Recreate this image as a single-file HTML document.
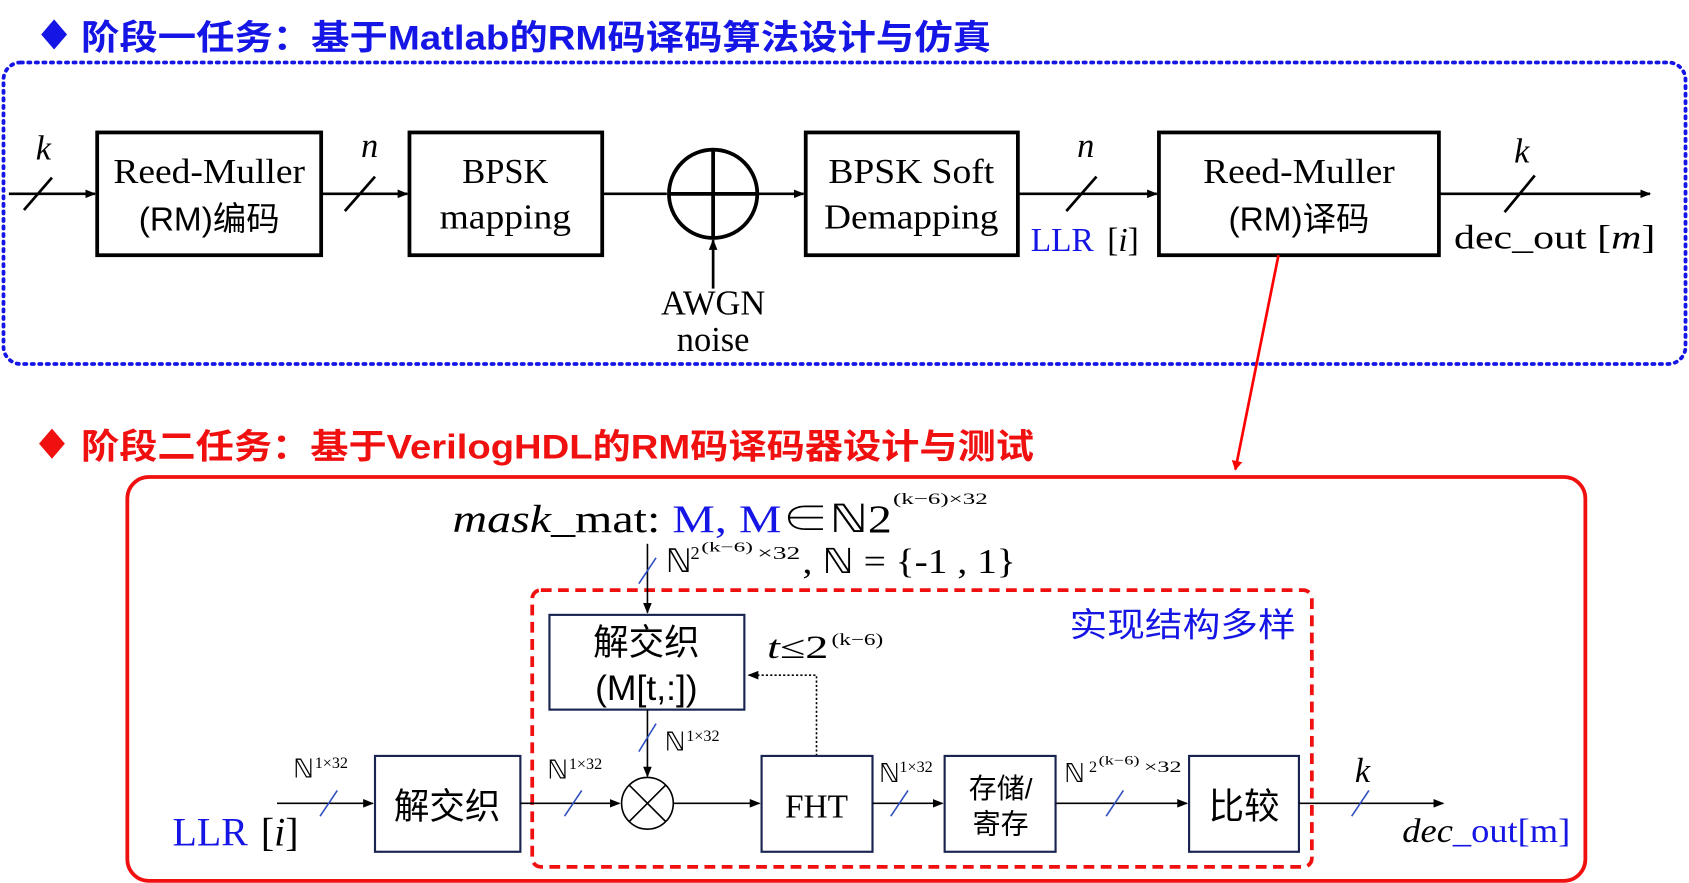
<!DOCTYPE html>
<html><head><meta charset="utf-8"><style>
html,body{margin:0;padding:0;background:#fff;width:1689px;height:883px;overflow:hidden}
text{font-family:"Liberation Serif","Noto Serif CJK SC",serif}
.cjk{font-family:"Liberation Sans","Noto Sans CJK SC",sans-serif}
.it{font-style:italic}
</style></head><body>
<svg width="1689" height="883" viewBox="0 0 1568 820" xmlns="http://www.w3.org/2000/svg">
<defs>
<marker id="a" markerWidth="10" markerHeight="8" refX="9" refY="4" orient="auto" markerUnits="userSpaceOnUse"><path d="M0,0 L10,4 L0,8 z" fill="#000"/></marker>
<marker id="r" markerWidth="10" markerHeight="10" refX="8" refY="5" orient="auto" markerUnits="userSpaceOnUse"><path d="M0,0 L9,5 L0,10 z" fill="#f00"/></marker>
</defs>
<!-- Title 1 -->
<path d="M50,18 L62,32 L50,46 L38,32 z" fill="#1515e6"/>
<text x="75" y="46" class="cjk" font-size="32" font-weight="bold" fill="#1515e6" textLength="845" lengthAdjust="spacingAndGlyphs">阶段一任务：基于Matlab的RM码译码算法设计与仿真</text>
<rect x="3" y="58" width="1562" height="280" rx="16" fill="none" stroke="#1515e6" stroke-width="3.5" stroke-dasharray="2,5" stroke-linecap="round"/>
<!-- stage 1 -->
<g fill="none" stroke="#000" stroke-width="3.5">
<rect x="90" y="123" width="208" height="114"/>
<rect x="380" y="123" width="179" height="114"/>
<rect x="748" y="123" width="197" height="114"/>
<rect x="1076" y="123" width="260" height="114"/>
<circle cx="662" cy="180" r="41"/>
<line x1="662" y1="139" x2="662" y2="221"/><line x1="621" y1="180" x2="703" y2="180"/>
</g>
<g stroke="#000" stroke-width="2.5" fill="none">
<line x1="8" y1="180" x2="88" y2="180" marker-end="url(#a)"/>
<line x1="298" y1="180" x2="378" y2="180" marker-end="url(#a)"/>
<line x1="559" y1="180" x2="619" y2="180"/>
<line x1="703" y1="180" x2="746" y2="180" marker-end="url(#a)"/>
<line x1="945" y1="180" x2="1074" y2="180" marker-end="url(#a)"/>
<line x1="1336" y1="180" x2="1532" y2="180" marker-end="url(#a)"/>
<line x1="662" y1="268" x2="662" y2="223" marker-end="url(#a)"/>
<line x1="22" y1="195" x2="48" y2="165"/>
<line x1="320" y1="196" x2="348" y2="164"/>
<line x1="990" y1="196" x2="1018" y2="164"/>
<line x1="1397" y1="197" x2="1425" y2="163"/>
</g>
<g font-size="32" text-anchor="middle">
<text x="194" y="170" textLength="178" lengthAdjust="spacingAndGlyphs">Reed-Muller</text>
<text x="194" y="214" class="cjk" font-size="31">(RM)编码</text>
<text x="469" y="170">BPSK</text><text x="469" y="212" textLength="122" lengthAdjust="spacingAndGlyphs">mapping</text>
<text x="846" y="170" textLength="154" lengthAdjust="spacingAndGlyphs">BPSK Soft</text><text x="846" y="212" textLength="162" lengthAdjust="spacingAndGlyphs">Demapping</text>
<text x="1206" y="170" textLength="178" lengthAdjust="spacingAndGlyphs">Reed-Muller</text>
<text x="1206" y="214" class="cjk" font-size="31">(RM)译码</text>
<text x="662" y="292">AWGN</text><text x="662" y="326">noise</text>
<text x="40" y="148" class="it">k</text>
<text x="343" y="146" class="it">n</text>
<text x="1008" y="146" class="it">n</text>
<text x="1413" y="151" class="it">k</text>
</g>
<text x="957" y="233" font-size="31" fill="#1515e6">LLR</text><text x="1028" y="233" font-size="31">[<tspan class="it">i</tspan>]</text>
<text x="1350" y="231" font-size="31" textLength="187" lengthAdjust="spacingAndGlyphs">dec_out [<tspan class="it">m</tspan>]</text>
<!-- red arrow -->
<line x1="1187" y1="237" x2="1147" y2="436" stroke="#f00" stroke-width="2.5" marker-end="url(#r)"/>
<!-- Title 2 -->
<path d="M48,398 L60,412 L48,426 L36,412 z" fill="#f01010"/>
<text x="75" y="426" class="cjk" font-size="32" font-weight="bold" fill="#f01010" textLength="885" lengthAdjust="spacingAndGlyphs">阶段二任务：基于VerilogHDL的RM码译码器设计与测试</text>
<rect x="118" y="443" width="1354" height="375" rx="20" fill="none" stroke="#f01010" stroke-width="3.5"/>
<rect x="494" y="548" width="724" height="257" rx="8" fill="none" stroke="#f01010" stroke-width="3.5" stroke-dasharray="10,6"/>
<text x="993" y="591" class="cjk" font-size="31" fill="#1515e6" textLength="210" lengthAdjust="spacingAndGlyphs">实现结构多样</text>
<!-- mask -->
<text x="420" y="494" font-size="36" textLength="408" lengthAdjust="spacingAndGlyphs"><tspan class="it">mask</tspan><tspan>_mat: </tspan><tspan fill="#1515e6">M,  M</tspan>∈ℕ2</text>
<text x="829" y="468" font-size="15" textLength="88" lengthAdjust="spacingAndGlyphs">(k−6)×32</text>
<text x="618" y="531" font-size="30">ℕ</text><text x="641" y="519" font-size="17">2</text><text x="651" y="512" font-size="13" textLength="48" lengthAdjust="spacingAndGlyphs">(k−6)</text><text x="703" y="519" font-size="17" textLength="40" lengthAdjust="spacingAndGlyphs">×32</text>
<text x="745" y="532" font-size="32" textLength="198" lengthAdjust="spacingAndGlyphs">, ℕ = {-1 , 1}</text>
<g stroke="#000" stroke-width="1.5" fill="none">
<line x1="601" y1="505" x2="601" y2="569" marker-end="url(#a)"/>
<rect x="510" y="571" width="181" height="88" stroke="#1a2450" stroke-width="2"/>
<line x1="601" y1="659" x2="601" y2="721" marker-end="url(#a)"/>
<circle cx="601" cy="746" r="24"/>
<line x1="584" y1="729" x2="618" y2="763"/><line x1="618" y1="729" x2="584" y2="763"/>
<polyline points="758,702 758,627 695,627" stroke-dasharray="2,2" marker-end="url(#a)"/>
<line x1="257" y1="746" x2="346" y2="746" marker-end="url(#a)"/>
<rect x="348" y="702" width="135" height="89" stroke="#1a2450" stroke-width="2"/>
<line x1="483" y1="746" x2="575" y2="746" marker-end="url(#a)"/>
<line x1="625" y1="746" x2="705" y2="746" marker-end="url(#a)"/>
<rect x="707" y="702" width="103" height="89" stroke="#1a2450" stroke-width="2"/>
<line x1="810" y1="746" x2="875" y2="746" marker-end="url(#a)"/>
<rect x="877" y="702" width="103" height="89" stroke="#1a2450" stroke-width="2"/>
<line x1="980" y1="746" x2="1102" y2="746" marker-end="url(#a)"/>
<rect x="1104" y="702" width="102" height="89" stroke="#1a2450" stroke-width="2"/>
<line x1="1206" y1="746" x2="1340" y2="746" marker-end="url(#a)"/>
</g>
<g stroke="#3050c0" stroke-width="1.5">
<line x1="593" y1="542" x2="609" y2="518"/>
<line x1="593" y1="698" x2="609" y2="672"/>
<line x1="297" y1="758" x2="313" y2="734"/>
<line x1="524" y1="758" x2="540" y2="734"/>
<line x1="827" y1="758" x2="843" y2="734"/>
<line x1="1027" y1="758" x2="1043" y2="734"/>
<line x1="1255" y1="758" x2="1271" y2="734"/>
</g>
<text x="600" y="608" text-anchor="middle" class="cjk" font-size="33">解交织</text>
<text x="600" y="650" text-anchor="middle" class="cjk" font-size="33">(M[t,:])</text>
<text x="712" y="611" font-size="30" textLength="57" lengthAdjust="spacingAndGlyphs"><tspan class="it">t</tspan>≤2</text>
<text x="772" y="599" font-size="16" textLength="48" lengthAdjust="spacingAndGlyphs">(k−6)</text>
<text x="617" y="697" font-size="24">ℕ</text><text x="637" y="688" font-size="15">1×32</text>
<text x="272" y="722" font-size="24">ℕ</text><text x="292" y="713" font-size="15">1×32</text>
<text x="508" y="723" font-size="24">ℕ</text><text x="528" y="714" font-size="15">1×32</text>
<text x="816" y="726" font-size="24">ℕ</text><text x="835" y="717" font-size="15">1×32</text>
<text x="988" y="726" font-size="24">ℕ</text><text x="1011" y="717" font-size="15">2</text><text x="1020" y="710" font-size="12" textLength="38" lengthAdjust="spacingAndGlyphs">(k−6)</text><text x="1062" y="717" font-size="15" textLength="35" lengthAdjust="spacingAndGlyphs">×32</text>
<text x="1258" y="726" font-size="32" class="it">k</text>
<text x="415" y="760" text-anchor="middle" class="cjk" font-size="33">解交织</text>
<text x="758" y="759" text-anchor="middle" font-size="31">FHT</text>
<text x="929" y="741" text-anchor="middle" class="cjk" font-size="26">存储/</text>
<text x="929" y="774" text-anchor="middle" class="cjk" font-size="26">寄存</text>
<text x="1155" y="760" text-anchor="middle" class="cjk" font-size="33">比较</text>
<text x="160" y="785" font-size="37" fill="#1515e6">LLR</text><text x="242" y="785" font-size="37">[<tspan class="it">i</tspan>]</text>
<text x="1302" y="782" font-size="31" textLength="156" lengthAdjust="spacingAndGlyphs"><tspan class="it">dec</tspan><tspan fill="#1515e6">_out[m]</tspan></text>
</svg>
</body></html>
